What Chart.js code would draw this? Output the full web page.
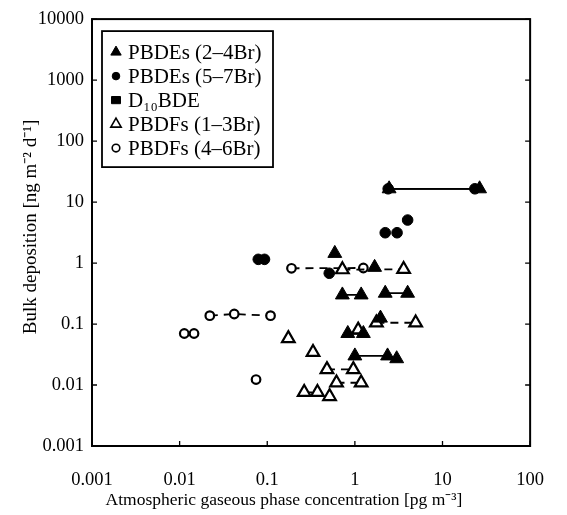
<!DOCTYPE html>
<html>
<head>
<meta charset="utf-8">
<script src="https://cdn.jsdelivr.net/npm/chart.js@4/dist/chart.umd.min.js"></script>
<style>
    html, body { margin: 0; padding: 0; background: #fff; }
    canvas { display: block; }
</style>
</head>
<body>
<canvas id="grafico" width="567" height="515"></canvas>
<script>
// tick positions and labels
const xTicks = [0.001, 0.01, 0.1, 1, 10, 100];
const xTickLabels = ['0.001', '0.01', '0.1', '1', '10', '100'];
const yTicks = [0.001, 0.01, 0.1, 1, 10, 100, 1000, 10000];
const yTickLabels = ['0.001', '0.01', '0.1', '1', '10', '100', '1000', '10000'];

// PBDEs (2-4Br), filled triangles; points with the same group are joined
const pbdeLowX = [2.46, 26.5, 0.59, 1.68, 0.72, 1.18, 2.22, 4.0, 0.83, 1.25, 1.96, 1.0, 2.36, 3.0];
const pbdeLowY = [16.5, 16.5, 1.44, 0.85, 0.30, 0.30, 0.32, 0.32, 0.07, 0.07, 0.125, 0.03, 0.03, 0.027];
const pbdeLowGroup = [1, 1, 2, 3, 4, 4, 5, 5, 6, 6, 7, 8, 8, 8];

// PBDEs (5-7Br), filled circles
const pbdeHighX = [2.4, 23.4, 0.079, 0.093, 0.51, 2.22, 3.03, 4.0];
const pbdeHighY = [16.5, 16.5, 1.15, 1.15, 0.68, 3.14, 3.14, 5.07];
const pbdeHighGroup = [1, 1, 2, 3, 4, 5, 6, 7];

// D10BDE, filled squares (no points in the plot)
const decaX = [];
const decaY = [];
const decaGroup = [];

// PBDFs (1-3Br), open triangles
const pbdfLowX = [0.72, 3.6, 0.174, 0.333, 1.09, 1.76, 4.94, 0.48, 0.96, 0.617, 1.18, 0.264, 0.374, 0.514];
const pbdfLowY = [0.78, 0.79, 0.058, 0.0344, 0.08, 0.105, 0.105, 0.018, 0.018, 0.0109, 0.0109, 0.0076, 0.0076, 0.0065];
const pbdfLowGroup = [1, 1, 2, 3, 4, 5, 5, 6, 6, 7, 7, 8, 8, 9];

// PBDFs (4-6Br), open circles
const pbdfHighX = [0.0113, 0.0146, 0.0221, 0.042, 0.109, 0.0745, 0.189, 1.25];
const pbdfHighY = [0.07, 0.07, 0.137, 0.146, 0.137, 0.0123, 0.82, 0.83];
const pbdfHighGroup = [1, 2, 3, 3, 3, 4, 5, 5];

const fonte = 'Liberation Serif, Times New Roman, serif';
const tituloX = 'Atmospheric gaseous phase concentration [pg m⁻³]';
const tituloY = 'Bulk deposition [ng m⁻² d⁻¹]';

const series = [
    { label: 'PBDEs (2–4Br)', xs: pbdeLowX, ys: pbdeLowY, grupos: pbdeLowGroup,
      estilo: 'triangle', raio: 8, cheio: true },
    { label: 'PBDEs (5–7Br)', xs: pbdeHighX, ys: pbdeHighY, grupos: pbdeHighGroup,
      estilo: 'circle', raio: 5.3, cheio: true },
    { label: 'D₁₀BDE', xs: decaX, ys: decaY, grupos: decaGroup,
      estilo: 'rect', raio: 5, cheio: true },
    { label: 'PBDFs (1–3Br)', xs: pbdfLowX, ys: pbdfLowY, grupos: pbdfLowGroup,
      estilo: 'triangle', raio: 7.3, cheio: false },
    { label: 'PBDFs (4–6Br)', xs: pbdfHighX, ys: pbdfHighY, grupos: pbdfHighGroup,
      estilo: 'circle', raio: 4.3, cheio: false },
];

function montarDatasets() {
    const datasets = [];
    series.forEach((s) => {
        const porGrupo = new Map();
        s.xs.forEach((x, i) => {
            const g = s.grupos[i];
            if (!porGrupo.has(g)) porGrupo.set(g, []);
            porGrupo.get(g).push({ x: x, y: s.ys[i] });
        });
        porGrupo.forEach((pts) => {
            datasets.push({
                label: s.label,
                data: pts,
                showLine: pts.length > 1,
                borderColor: '#000',
                borderWidth: 1.8,
                borderDash: s.cheio ? [] : [8, 6],
                pointStyle: s.estilo,
                pointRadius: s.raio,
                pointBackgroundColor: s.cheio ? '#000' : '#fff',
                pointBorderColor: '#000',
                pointBorderWidth: s.cheio ? 1 : 2.2,
            });
        });
    });
    return datasets;
}

function desenharMarcador(ctx, estilo, x, y, r, cheio) {
    ctx.save();
    ctx.beginPath();
    if (estilo === 'triangle') {
        ctx.moveTo(x, y - r);
        ctx.lineTo(x + r * 0.866, y + r * 0.5);
        ctx.lineTo(x - r * 0.866, y + r * 0.5);
        ctx.closePath();
    } else if (estilo === 'circle') {
        ctx.arc(x, y, r, 0, Math.PI * 2);
    } else {
        ctx.rect(x - r, y - r * 0.8, r * 2, r * 1.6);
    }
    ctx.fillStyle = cheio ? '#000' : '#fff';
    ctx.fill();
    ctx.lineWidth = cheio ? 1 : 1.6;
    ctx.strokeStyle = '#000';
    ctx.stroke();
    ctx.restore();
}

const molduraPlugin = {
    id: 'moldura',
    afterDraw(chart) {
        const ctx = chart.ctx;
        const a = chart.chartArea;
        ctx.save();
        ctx.strokeStyle = '#000';
        ctx.lineWidth = 2;
        ctx.strokeRect(a.left, a.top, a.right - a.left, a.bottom - a.top);

        // inward tick marks
        ctx.lineWidth = 1.3;
        ctx.beginPath();
        xTicks.forEach((v) => {
            const px = chart.scales.x.getPixelForValue(v);
            ctx.moveTo(px, a.bottom);
            ctx.lineTo(px, a.bottom - 5);
        });
        yTicks.forEach((v) => {
            const py = chart.scales.y.getPixelForValue(v);
            ctx.moveTo(a.left, py);
            ctx.lineTo(a.left + 5, py);
            ctx.moveTo(a.right, py);
            ctx.lineTo(a.right - 5, py);
        });
        ctx.stroke();

        // axis titles, placed like the original
        ctx.fillStyle = '#000';
        ctx.textAlign = 'center';
        ctx.textBaseline = 'middle';
        ctx.font = '17.5px ' + fonte;
        ctx.fillText(tituloX, 284, 500);
        ctx.save();
        ctx.translate(31, 227);
        ctx.rotate(-Math.PI / 2);
        ctx.font = '19px ' + fonte;
        ctx.fillText(tituloY, 0, 0);
        ctx.restore();

        // legend box
        const lx = a.left + 10, ly = a.top + 12, lw = 171, lh = 136;
        ctx.fillStyle = '#fff';
        ctx.fillRect(lx, ly, lw, lh);
        ctx.lineWidth = 1.8;
        ctx.strokeRect(lx, ly, lw, lh);
        ctx.font = '21px ' + fonte;
        ctx.textAlign = 'left';
        series.forEach((s, i) => {
            const yy = ly + 21 + i * 24;
            const r = s.estilo === 'circle' ? 3.8 : (s.estilo === 'triangle' ? 6 : 4.5);
            desenharMarcador(ctx, s.estilo, lx + 14, yy, r, s.cheio);
            ctx.fillStyle = '#000';
            ctx.fillText(s.label, lx + 26, yy + 1);
        });
        ctx.restore();
    },
};

new Chart(document.getElementById('grafico'), {
    type: 'scatter',
    data: { datasets: montarDatasets() },
    options: {
        responsive: false,
        animation: false,
        devicePixelRatio: 1,
        layout: { padding: { top: 19, right: 19, left: 0, bottom: 0 } },
        plugins: { legend: { display: false }, tooltip: { enabled: false } },
        scales: {
            x: {
                type: 'logarithmic',
                min: 0.001,
                max: 100,
                afterBuildTicks: (scale) => { scale.ticks = xTicks.map((v) => ({ value: v })); },
                afterFit: (scale) => { scale.height = 69; },
                grid: { display: false, drawTicks: false },
                border: { display: false },
                ticks: {
                    color: '#000',
                    padding: 23,
                    maxRotation: 0,
                    font: { family: fonte, size: 18.5 },
                    callback: (v, i) => xTickLabels[i],
                },
                title: { display: false },
            },
            y: {
                type: 'logarithmic',
                min: 0.001,
                max: 10000,
                afterBuildTicks: (scale) => { scale.ticks = yTicks.map((v) => ({ value: v })); },
                afterFit: (scale) => { scale.width = 92; },
                grid: { display: false, drawTicks: false },
                border: { display: false },
                ticks: {
                    color: '#000',
                    padding: 8,
                    font: { family: fonte, size: 18.5 },
                    callback: (v, i) => yTickLabels[i],
                },
                title: { display: false },
            },
        },
    },
    plugins: [molduraPlugin],
});
</script>
</body>
</html>
